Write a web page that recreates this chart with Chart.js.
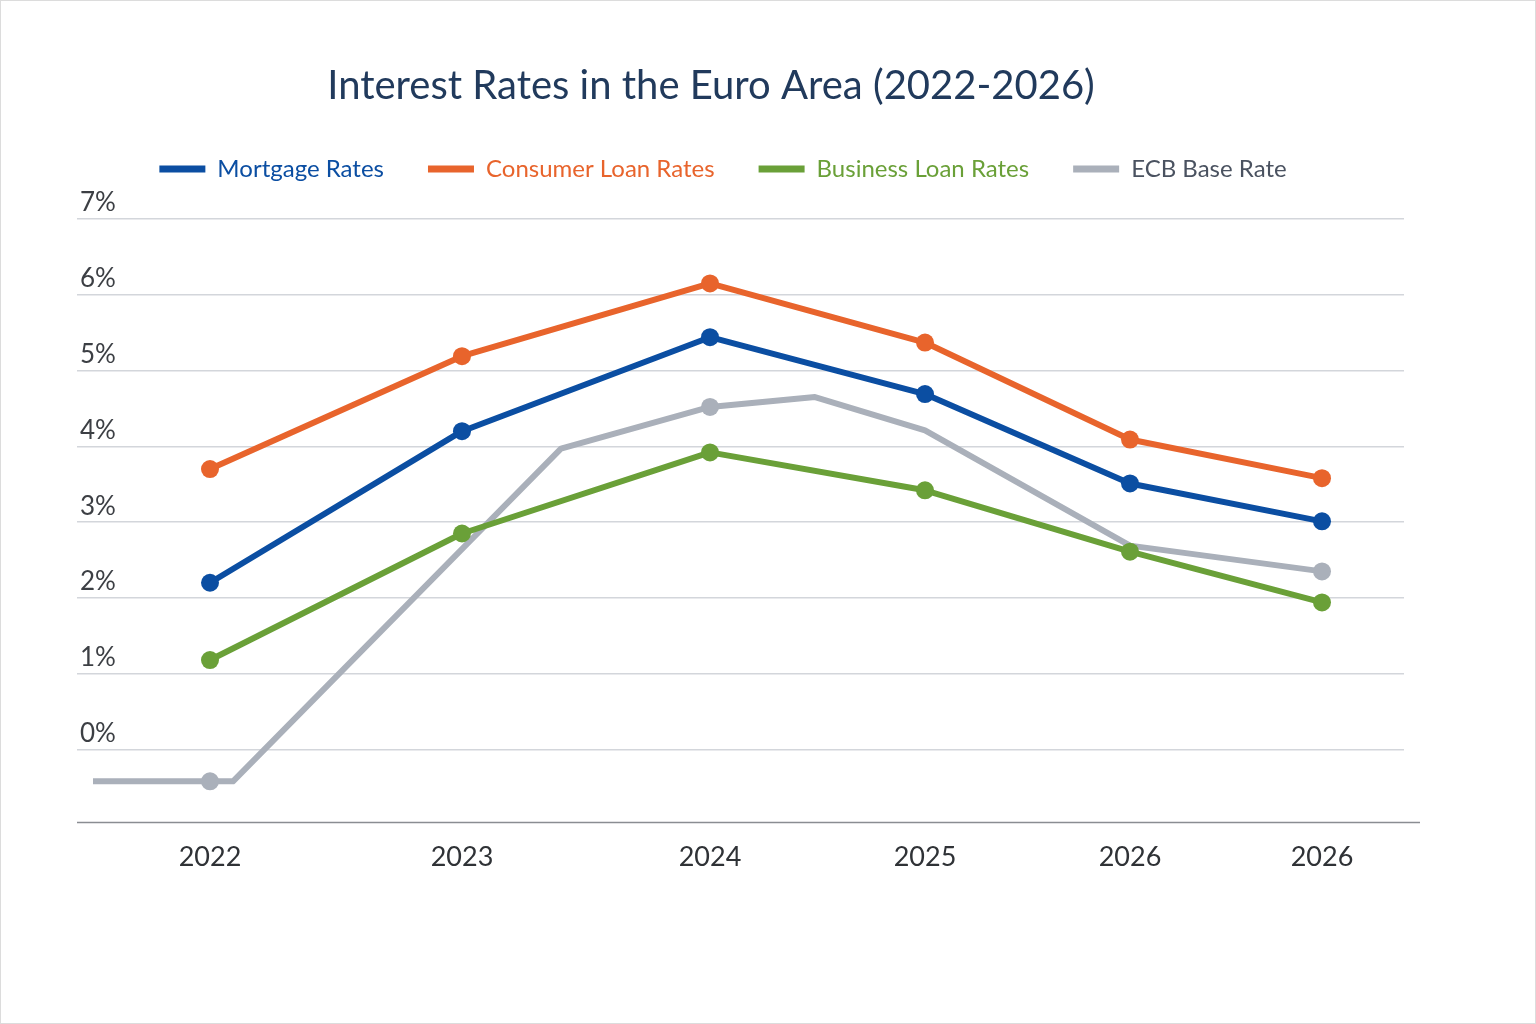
<!DOCTYPE html>
<html>
<head>
<meta charset="utf-8">
<script src="https://cdn.jsdelivr.net/npm/chart.js@4"></script>
<style>
  html, body { margin: 0; padding: 0; background: #ffffff; }
  #wrap { width: 1536px; height: 1024px; }
</style>
</head>
<body>
<div id="wrap"><canvas id="c" width="1536" height="1024"></canvas></div>
<script>
// ---- data ----
const chartTitle = 'Interest Rates in the Euro Area (2022-2026)';
const seriesNames = ['Mortgage Rates', 'Consumer Loan Rates', 'Business Loan Rates', 'ECB Base Rate'];
const periodLabels = ['2022', '2023', '2024', '2025', '2026', '2026'];
// position of each period along the time axis (uneven in the source)
const periodPos = [0, 1.008, 2.0, 2.86, 3.68, 4.448];
const mortgageRates = [2.20, 4.20, 5.44, 4.69, 3.51, 3.01];
const consumerLoanRates = [3.70, 5.19, 6.15, 5.37, 4.09, 3.58];
const businessLoanRates = [1.18, 2.85, 3.92, 3.42, 2.61, 1.94];
// ECB base rate path has intermediate points
const ecbPos = [-0.468, 0, 0.092, 1.404, 2.0, 2.42, 2.86, 3.68, 4.448];
const ecbRates = [-0.42, -0.42, -0.42, 3.97, 4.52, 4.65, 4.21, 2.69, 2.35];
const ecbMarked = [false, true, false, false, true, false, false, false, true];
const yTicks = [0, 1, 2, 3, 4, 5, 6, 7];

const colors = ['#0b4ea2', '#e8642c', '#6aa038', '#aab0ba'];
const legendTextColors = ['#0b4ea2', '#e8642c', '#6aa038', '#4a5260'];

const toPts = (xs, ys) => xs.map((x, i) => ({ x: x, y: ys[i] }));

const frame = {
  id: 'frame',
  afterInit(chart) {
    const lg = chart.legend;
    if (lg) {
      const orig = lg.fit.bind(lg);
      lg.fit = function () { orig(); this.height += 28; };
    }
    const tb = chart.titleBlock;
    if (tb) {
      const od = tb.draw.bind(tb);
      tb.draw = function () {
        const ctx = chart.ctx;
        ctx.save();
        ctx.translate(-12, 0);
        od();
        ctx.restore();
      };
    }
  },
  beforeDraw(chart) {
    const ctx = chart.ctx;
    ctx.save();
    ctx.fillStyle = '#ffffff';
    ctx.fillRect(0, 0, chart.width, chart.height);
    ctx.strokeStyle = '#dcdcdc';
    ctx.lineWidth = 2;
    ctx.strokeRect(0, 0, chart.width, chart.height);
    ctx.restore();
  },
  beforeDatasetsDraw(chart) {
    const ctx = chart.ctx, a = chart.chartArea;
    ctx.save();
    ctx.strokeStyle = '#8a8d92';
    ctx.lineWidth = 1.5;
    ctx.beginPath();
    ctx.moveTo(a.left, a.bottom);
    ctx.lineTo(a.right + 16, a.bottom);
    ctx.stroke();
    ctx.restore();
  }
};

const mk = (i, data, radius) => ({
  label: seriesNames[i],
  data: data,
  borderColor: colors[i],
  backgroundColor: colors[i],
  pointBackgroundColor: colors[i],
  pointBorderColor: colors[i],
  borderWidth: 6,
  pointRadius: radius,
  pointBorderWidth: 0,
  tension: 0,
  borderJoinStyle: 'round',
  borderCapStyle: 'butt'
});

new Chart(document.getElementById('c'), {
  type: 'line',
  data: {
    datasets: [
      mk(0, toPts(periodPos, mortgageRates), 9),
      mk(1, toPts(periodPos, consumerLoanRates), 9),
      mk(2, toPts(periodPos, businessLoanRates), 9),
      mk(3, toPts(ecbPos, ecbRates), ecbMarked.map(m => m ? 9 : 0))
    ]
  },
  options: {
    responsive: false,
    animation: false,
    events: [],
    layout: { padding: { left: 42, right: 132, top: 0, bottom: 133 } },
    plugins: {
      title: {
        display: true,
        text: chartTitle,
        color: '#213a5c',
        font: { family: 'Lato', size: 40, weight: 'normal' },
        padding: { top: 62, bottom: 3 }
      },
      legend: {
        display: true,
        position: 'top',
        align: 'center',
        labels: {
          boxWidth: 46,
          boxHeight: 7,
          padding: 44,
          font: { family: 'Lato', size: 24 },
          generateLabels(chart) {
            return chart.data.datasets.map((ds, i) => ({
              text: ds.label,
              fillStyle: colors[i],
              strokeStyle: colors[i],
              lineWidth: 0,
              fontColor: legendTextColors[i],
              datasetIndex: i,
              hidden: false
            }));
          }
        }
      },
      tooltip: { enabled: false }
    },
    scales: {
      x: {
        type: 'linear',
        min: -0.532,
        max: 4.776,
        grid: { display: false, drawTicks: false },
        border: { display: false },
        afterBuildTicks(scale) { scale.ticks = periodPos.map(v => ({ value: v })); },
        ticks: {
          autoSkip: false,
          maxRotation: 0,
          padding: 18,
          color: '#2f3236',
          font: { family: 'Lato', size: 27 },
          callback(value, index) { return periodLabels[index]; }
        }
      },
      y: {
        type: 'linear',
        min: -0.965,
        max: 7,
        afterFit(scale) { scale.width = 35; },
        afterBuildTicks(scale) { scale.ticks = yTicks.map(v => ({ value: v })); },
        grid: { color: '#d3d6db', lineWidth: 1.5, drawTicks: false },
        border: { display: false },
        ticks: {
          mirror: true,
          padding: 3,
          labelOffset: -16,
          color: '#3c3f44',
          font: { family: 'Lato', size: 26 },
          callback(value) { return value + '%'; }
        }
      }
    }
  },
  plugins: [frame]
});
</script>
</body>
</html>
